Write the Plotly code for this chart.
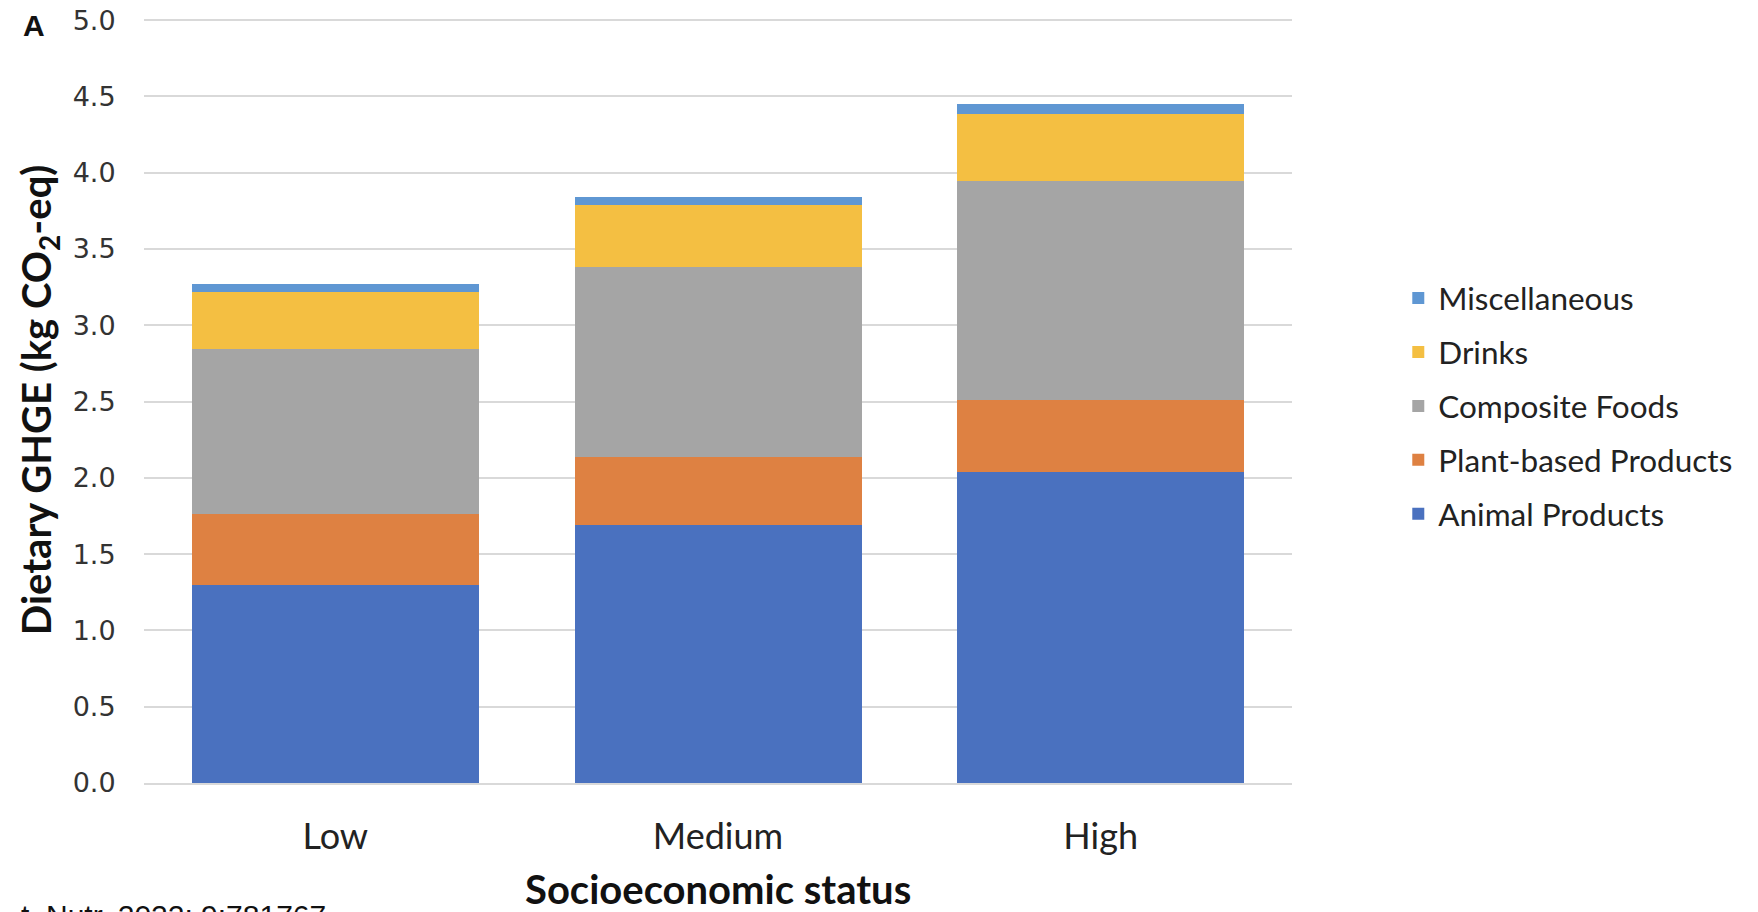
import plotly.graph_objects as go

categories = ["Low", "Medium", "High"]
series_names = ["Animal Products", "Plant-based Products", "Composite Foods", "Drinks", "Miscellaneous"]
animal = [1.30, 1.69, 2.035]
plant = [0.463, 0.447, 0.472]
composite = [1.083, 1.247, 1.44]
drinks = [0.371, 0.405, 0.435]
misc = [0.055, 0.054, 0.067]
y_ticks = [0.0, 0.5, 1.0, 1.5, 2.0, 2.5, 3.0, 3.5, 4.0, 4.5, 5.0]
colors = ["#4A71BF", "#DE8142", "#A5A5A5", "#F4BF42", "#5F97D3"]
x_title = "Socioeconomic status"
y_title = "Dietary GHGE (kg CO<sub>2</sub>-eq)"

W, H = 1758, 912
YMAX = 5.02
L, R, B = 143.5, 1291.7, 783
T = 20 - (YMAX - 5.0) * (783 - 20) / 5.0

fig = go.Figure()
for i, (name, vals, col) in enumerate(zip(series_names, [animal, plant, composite, drinks, misc], colors)):
    fig.add_trace(go.Bar(x=categories, y=vals, name=name, legendgroup=name, legendrank=100 - i,
                         marker=dict(color=col, line=dict(width=0))))

font_main = "Lato, 'Open Sans', sans-serif"


def px_x(p):
    return (p - L) / (R - L)


def px_y(p):
    return (B - p) / (B - T)


fig.update_layout(
    width=W, height=H,
    barmode="stack", bargap=0.25,
    plot_bgcolor="white", paper_bgcolor="white",
    margin=dict(l=L, r=W - R, t=T, b=H - B, pad=0, autoexpand=False),
    showlegend=True,
    legend=dict(traceorder="grouped", tracegroupgap=10,
                x=px_x(1398), xanchor="left", y=px_y(271), yanchor="top",
                font=dict(family=font_main, size=31.5, color="#222"),
                itemwidth=30, bgcolor="rgba(0,0,0,0)"),
    xaxis=dict(showgrid=False, showline=True, linecolor="#D9D9D9", linewidth=2, automargin=False,
               tickfont=dict(family=font_main, size=36, color="#222"),
               ticks="outside", ticklen=21, tickcolor="rgba(0,0,0,0)"),
    yaxis=dict(range=[0, YMAX], tickvals=y_ticks, ticktext=[f"{v:.1f}" for v in y_ticks],
               showgrid=True, gridcolor="#D9D9D9", gridwidth=2, zeroline=False, automargin=False,
               tickfont=dict(family="'DejaVu Sans', Verdana, sans-serif", size=27, color="#333"),
               ticks="outside", ticklen=22, tickcolor="rgba(0,0,0,0)",
               title=dict(text=f"<b>{y_title}</b>", font=dict(family=font_main, size=40, color="#111"), standoff=8)),
)

fig.layout.annotations = [
    dict(text=f"<b>{x_title}</b>", x=0.5, y=px_y(889), xref="paper", yref="paper", showarrow=False,
         xanchor="center", yanchor="middle", font=dict(family=font_main, size=40, color="#111")),
    dict(text="<b>A</b>", x=px_x(33), y=px_y(25), xref="paper", yref="paper", showarrow=False,
         xanchor="center", yanchor="middle", font=dict(family="'Liberation Sans', Arial, sans-serif", size=30, color="#111")),
    dict(text="t. Nutr. 2022; 9:781767", x=px_x(328), y=px_y(897), xref="paper", yref="paper", showarrow=False,
         xanchor="right", yanchor="top", font=dict(family="'Liberation Sans', Arial, sans-serif", size=30, color="#111")),
]

fig.write_html("out.html", config={"displayModeBar": False},
               post_script="document.body.style.margin='0';document.body.style.overflow='hidden';")
